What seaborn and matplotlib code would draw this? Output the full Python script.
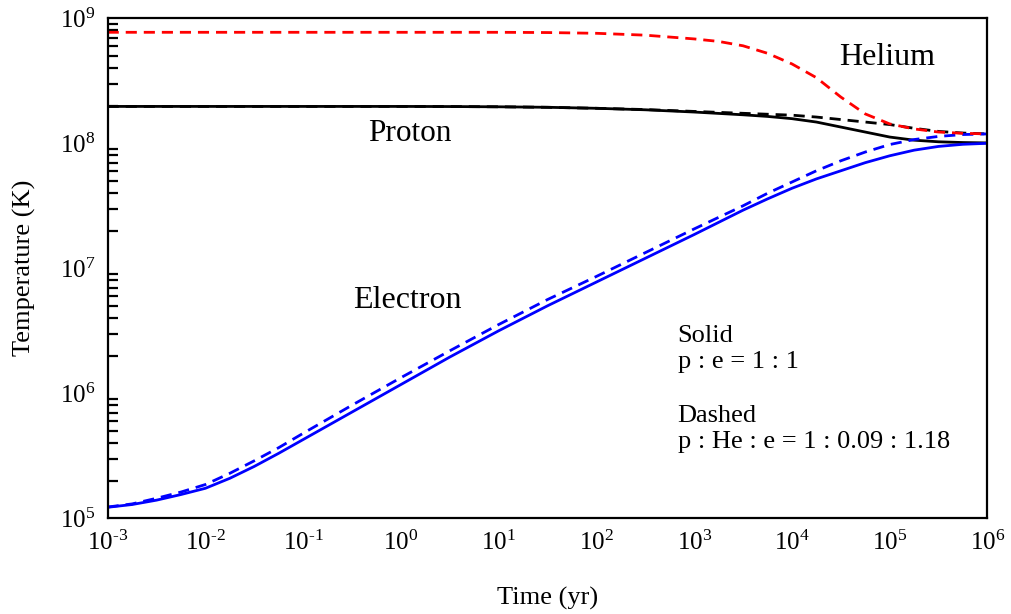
"""
Temperature evolution of protons, electrons and helium
"""

import matplotlib.pyplot as plt
import matplotlib.ticker as mticker
import numpy as np
import pandas as pd
import seaborn as sns

# log10 of time (yr) and log10 of temperature (K)
E_SOLID_LOGX = [-3, -2.75, -2.5, -2.25, -2, -1.75, -1.5, -1.25, -1, -0.5, 0, 0.5, 1, 1.5,
                2, 2.5, 3, 3.5, 3.75, 4, 4.25, 4.5, 4.75, 5, 5.25, 5.5, 5.75, 6]
E_SOLID_LOGT = [5.088, 5.11, 5.145, 5.19, 5.24, 5.32, 5.415, 5.52, 5.63, 5.85, 6.07, 6.29,
                6.50, 6.70, 6.89, 7.08, 7.27, 7.465, 7.555, 7.64, 7.715, 7.78, 7.845, 7.9,
                7.945, 7.975, 7.992, 8.0]

E_DASH_LOGX = E_SOLID_LOGX
E_DASH_LOGT = [5.09, 5.115, 5.16, 5.21, 5.27, 5.36, 5.46, 5.565, 5.68, 5.905, 6.125, 6.34,
               6.55, 6.75, 6.935, 7.125, 7.315, 7.5, 7.6, 7.69, 7.78, 7.86, 7.93, 7.99,
               8.03, 8.055, 8.07, 8.075]

P_SOLID_LOGX = [-3, -2, -1, 0, 0.5, 1, 1.5, 2, 2.5, 3, 3.5, 3.75, 4, 4.25, 4.5, 4.75, 5,
                5.25, 5.5, 5.75, 6]
P_SOLID_LOGT = [8.295, 8.295, 8.295, 8.295, 8.294, 8.292, 8.288, 8.28, 8.268, 8.25, 8.228,
                8.215, 8.197, 8.17, 8.13, 8.09, 8.05, 8.025, 8.012, 8.006, 8.003]

P_DASH_LOGX = [-3, -2, -1, 0, 0.5, 1, 1.5, 2, 2.5, 3, 3.5, 4, 4.25, 4.5, 4.75, 5, 5.25,
               5.5, 5.75, 6]
P_DASH_LOGT = [8.295, 8.295, 8.295, 8.295, 8.294, 8.292, 8.288, 8.28, 8.27, 8.255, 8.24,
               8.225, 8.21, 8.19, 8.17, 8.15, 8.12, 8.095, 8.082, 8.075]

HE_DASH_LOGX = [-3, -2, -1, 0, 1, 1.5, 2, 2.5, 3, 3.25, 3.5, 3.75, 4, 4.25, 4.5, 4.75, 5,
                5.25, 5.5, 5.75, 6]
HE_DASH_LOGT = [8.888, 8.888, 8.888, 8.888, 8.888, 8.886, 8.88, 8.865, 8.835, 8.815, 8.78,
                8.72, 8.635, 8.525, 8.37, 8.235, 8.155, 8.115, 8.09, 8.08, 8.075]

CURVES = {
    "proton_solid": (P_SOLID_LOGX, P_SOLID_LOGT),
    "proton_dashed": (P_DASH_LOGX, P_DASH_LOGT),
    "electron_solid": (E_SOLID_LOGX, E_SOLID_LOGT),
    "electron_dashed": (E_DASH_LOGX, E_DASH_LOGT),
    "helium_dashed": (HE_DASH_LOGX, HE_DASH_LOGT),
}
PALETTE = {
    "proton_solid": "black",
    "proton_dashed": "black",
    "electron_solid": "#0000ff",
    "electron_dashed": "#0000ff",
    "helium_dashed": "#ff0000",
}
DASHES = {
    "proton_solid": "",
    "proton_dashed": (4, 2.5),
    "electron_solid": "",
    "electron_dashed": (4, 2.5),
    "helium_dashed": (4, 2.5),
}


def build_frame():
    frames = []
    for name, (logx, logt) in CURVES.items():
        frames.append(pd.DataFrame({
            "time": 10 ** np.asarray(logx, dtype=float),
            "temp": 10 ** np.asarray(logt, dtype=float),
            "curve": name,
        }))
    return pd.concat(frames, ignore_index=True)


def power_label(value, pos):
    exp = int(round(np.log10(value)))
    # hyphen (not a minus sign) in the exponent, as in the original
    text = str(exp).replace("-", "\u2010")
    return r"$\mathdefault{10^{%s}}$" % text


def main():
    sns.set_style("white")
    plt.rcParams.update({
        "font.family": ["Liberation Serif", "DejaVu Serif"],
        "mathtext.fontset": "custom",
        "mathtext.rm": "Liberation Serif",
        "mathtext.it": "Liberation Serif:italic",
        "axes.unicode_minus": False,
        "axes.edgecolor": "black",
        "axes.linewidth": 1.6,
        "text.color": "black",
        "axes.labelcolor": "black",
        "xtick.color": "black",
        "ytick.color": "black",
    })
    data = build_frame()

    fig = plt.figure(figsize=(10.11, 6.14), dpi=100)
    ax = fig.add_axes([0.1065, 0.1559, 0.8702, 0.8143])
    sns.lineplot(
        data=data,
        x="time",
        y="temp",
        hue="curve",
        style="curve",
        palette=PALETTE,
        dashes=DASHES,
        estimator=None,
        sort=False,
        linewidth=2.0,
        legend=False,
        ax=ax,
    )
    ax.set_xscale("log")
    ax.set_yscale("log")
    ax.set_xlim(1e-3, 1e6)
    ax.set_ylim(1e5, 1e9)

    ax.xaxis.set_major_locator(mticker.LogLocator(base=10, numticks=20))
    ax.xaxis.set_minor_locator(mticker.NullLocator())
    ax.yaxis.set_major_locator(mticker.LogLocator(base=10, numticks=20))
    ax.yaxis.set_minor_locator(mticker.LogLocator(base=10, subs=np.arange(2, 10), numticks=20))
    ax.xaxis.set_major_formatter(mticker.FuncFormatter(power_label))
    ax.yaxis.set_major_formatter(mticker.FuncFormatter(power_label))
    ax.tick_params(axis="both", which="major", direction="in", length=14, width=1.6,
                   labelsize=18, pad=9, top=False, right=False)
    ax.tick_params(axis="y", which="minor", direction="in", length=7, width=1.6,
                   left=True, right=False)

    ax.set_xlabel("Time (yr)", fontsize=19)
    ax.set_ylabel("Temperature (K)", fontsize=19)
    ax.xaxis.set_label_coords(0.5, -0.138)
    ax.yaxis.set_label_coords(-0.082, 0.5)

    ax.text(10 ** 4.97, 10 ** 8.69, "Helium", fontsize=23, ha="center", va="center")
    ax.text(10 ** 0.09, 10 ** 8.08, "Proton", fontsize=22.5, ha="center", va="center")
    ax.text(10 ** 0.07, 10 ** 6.74, "Electron", fontsize=23, ha="center", va="center")
    ax.text(10 ** 2.83, 10 ** 6.354, "Solid\np : e = 1 : 1", fontsize=19,
            ha="left", va="center", linespacing=1.2)
    ax.text(10 ** 2.83, 10 ** 5.714, "Dashed\np : He : e = 1 : 0.09 : 1.18", fontsize=19,
            ha="left", va="center", linespacing=1.2)

    fig.savefig("out.png", dpi=100)


if __name__ == "__main__":
    main()
